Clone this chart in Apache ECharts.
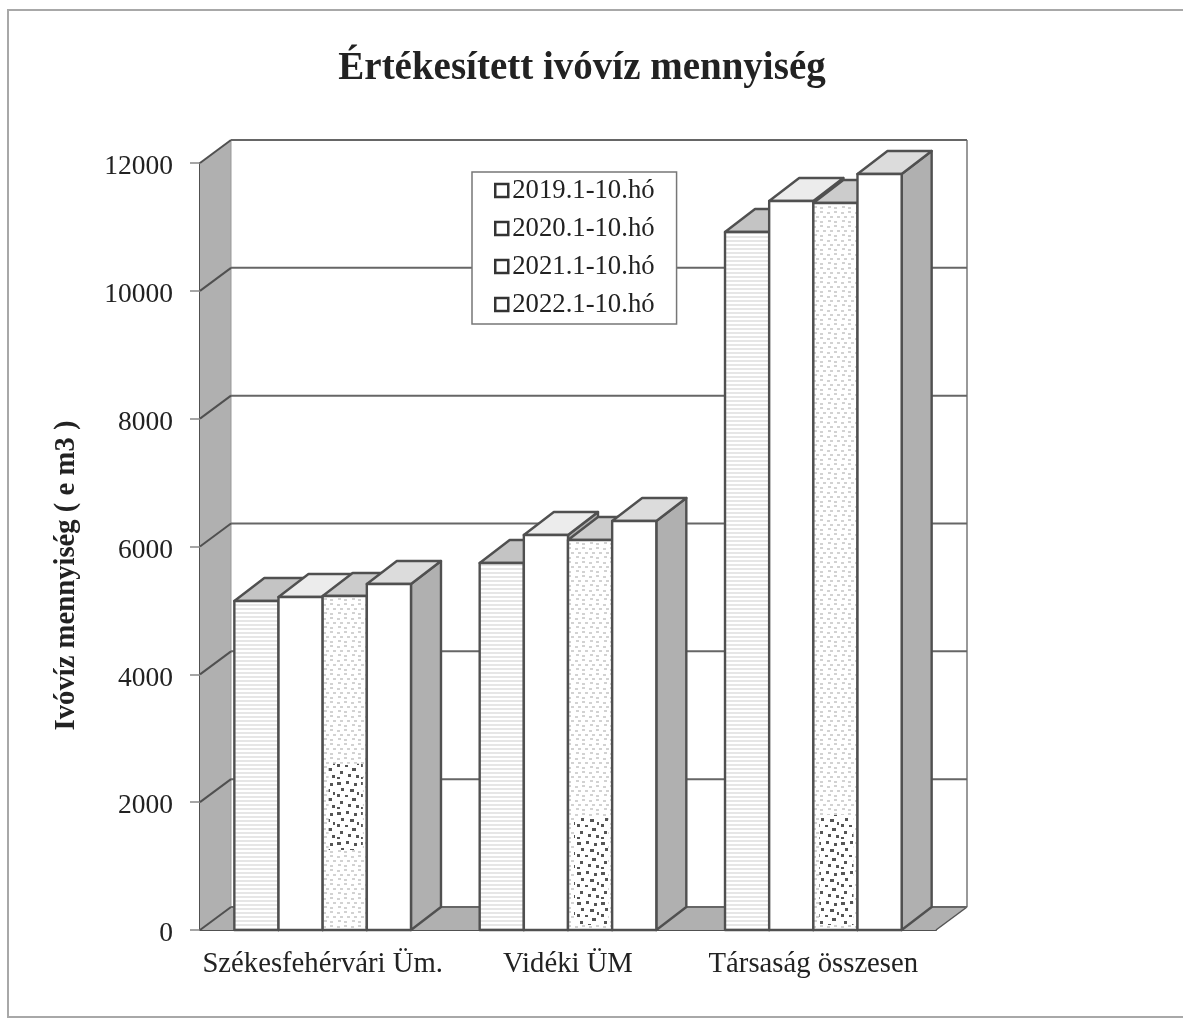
<!DOCTYPE html>
<html lang="hu">
<head>
    <meta charset="UTF-8"/>
    <script src="https://cdn.jsdelivr.net/npm/echarts@6/dist/echarts.min.js"></script>
    <title>Értékesített ivóvíz mennyiség</title>
    <style>
        html,body{margin:0;padding:0;background:#fff;}
        #chart{width:1183px;height:1018px;}
    </style>
</head>
<body>
<div id="chart"></div>
<script type="text/javascript">
    var categories = ['Székesfehérvári Üm.', 'Vidéki ÜM', 'Társaság összesen'];
    var yTicks = [0, 2000, 4000, 6000, 8000, 10000, 12000];
    var seriesNames = ['2019.1-10.hó', '2020.1-10.hó', '2021.1-10.hó', '2022.1-10.hó'];
    var values2019 = [5147, 5742, 10920];
    var values2020 = [5210, 6180, 11405];
    var values2021 = [5225, 6101, 11374];
    var values2022 = [5413, 6399, 11828];
    // dark speckled patches of the scan on the 2021 bars, value ranges
    var speckleLow = [1250, 80, 80];
    var speckleHigh = [2600, 1780, 1800];

    var FONT = '"Liberation Serif"';
    var LINE = '#505050';
    var SIDE = '#b0b0b0';
    var DEPTH_X = 30, DEPTH_Y = -23;
    var WALL_X = 31, WALL_Y = -23;
    var BAR_SHARE = 0.18;

    function makeTile(w, h, draw) {
        var c = document.createElement('canvas');
        c.width = w;
        c.height = h;
        var ctx = c.getContext('2d');
        ctx.fillStyle = '#fff';
        ctx.fillRect(0, 0, w, h);
        draw(ctx);
        return {image: c, repeat: 'repeat'};
    }
    var stripeFill = makeTile(4, 4, function (ctx) {
        ctx.fillStyle = '#e6e6e6';
        ctx.fillRect(0, 0, 4, 2);
    });
    var dotFill = makeTile(14, 14, function (ctx) {
        ctx.fillStyle = '#d2d2d2';
        [[1, 2], [8, 1], [4, 6], [11, 6], [2, 10], [8, 11]].forEach(function (p) {
            ctx.fillRect(p[0], p[1], 3, 2);
        });
    });
    var speckleFill = makeTile(24, 30, function (ctx) {
        ctx.fillStyle = '#555';
        [[1, 2, 4, 3], [10, 1, 3, 3], [18, 3, 3, 3], [5, 8, 3, 3], [14, 9, 4, 3], [21, 12, 2, 3], [1, 14, 3, 3], [9, 15, 3, 2], [16, 18, 4, 3], [4, 21, 3, 3], [12, 24, 3, 3], [20, 25, 3, 3], [1, 27, 3, 2]].forEach(function (p) {
            ctx.fillRect(p[0], p[1], p[2], p[3]);
        });
    });
    var frontFills = [stripeFill, '#fff', dotFill, '#fff'];
    var topFills = ['#c4c4c4', '#ececec', '#cccccc', '#dcdcdc'];

    function poly(points, fill, stroke, width) {
        return {
            type: 'polygon',
            shape: {points: points},
            style: {fill: fill, stroke: stroke || null, lineWidth: width || 0, lineJoin: 'round'}
        };
    }
    function seg(x1, y1, x2, y2, color, width) {
        return {
            type: 'line',
            shape: {x1: x1, y1: y1, x2: x2, y2: y2},
            style: {stroke: color, lineWidth: width}
        };
    }

    // walls, floor and gridlines
    function renderWalls(params, api) {
        var box = params.coordSys;
        var tick = api.coord([0, api.value(0)]);
        var children = [];
        var x0 = box.x, x1 = box.x + box.width;
        var yb = box.y + box.height, yt = box.y;
        if (params.dataIndex === 0) {
            children.push(poly([[x0, yb], [x0 + WALL_X, yb + WALL_Y], [x0 + WALL_X, yt + WALL_Y], [x0, yt]], SIDE));
            children.push(poly([[x0, yb], [x0 + WALL_X, yb + WALL_Y], [x1 + WALL_X, yb + WALL_Y], [x1, yb]], SIDE));
            children.push(seg(x1 + WALL_X, yt + WALL_Y, x1 + WALL_X, yb + WALL_Y, '#777', 1.5));
            children.push(seg(x0 + WALL_X, yt + WALL_Y, x0 + WALL_X, yb + WALL_Y, '#999', 1));
            children.push(seg(x1, yb, x1 + WALL_X, yb + WALL_Y, '#555', 1.5));
        }
        children.push(seg(x0, tick[1], x0 + WALL_X, tick[1] + WALL_Y, LINE, 2));
        children.push(seg(x0 + WALL_X, tick[1] + WALL_Y, x1 + WALL_X, tick[1] + WALL_Y, '#666', 2));
        return {type: 'group', children: children};
    }

    function barRenderer(order) {
        return function (params, api) {
            var top = api.coord([api.value(0), api.value(1)]);
            var base = api.coord([api.value(0), 0]);
            var w = api.size([1, 0])[0] * BAR_SHARE;
            var x = top[0] + (order - 2) * w;
            var lw = 2.4;
            var children = [
                poly([[x + w, top[1]], [x + w + DEPTH_X, top[1] + DEPTH_Y], [x + w + DEPTH_X, base[1] + DEPTH_Y], [x + w, base[1]]], SIDE, LINE, lw),
                poly([[x, top[1]], [x + DEPTH_X, top[1] + DEPTH_Y], [x + w + DEPTH_X, top[1] + DEPTH_Y], [x + w, top[1]]], topFills[order], LINE, lw),
                poly([[x, top[1]], [x + w, top[1]], [x + w, base[1]], [x, base[1]]], frontFills[order], LINE, lw)
            ];
            if (order === 2) {
                var hi = api.coord([api.value(0), speckleHigh[api.value(0)]]);
                var lo = api.coord([api.value(0), speckleLow[api.value(0)]]);
                children.push(poly([[x + 6, hi[1]], [x + w - 4, hi[1]], [x + w - 4, lo[1]], [x + 6, lo[1]]], speckleFill));
            }
            return {type: 'group', children: children};
        };
    }

    function barSeries(order, values) {
        return {
            name: seriesNames[order],
            type: 'custom',
            clip: false,
            renderItem: barRenderer(order),
            encode: {x: 0, y: 1},
            itemStyle: {color: '#fff', borderColor: '#333', borderWidth: 2},
            data: values.map(function (v, i) { return [i, v]; }),
            z: 3 + order
        };
    }

    var myChart = echarts.init(document.getElementById('chart'), null, {renderer: 'canvas'});
    var option = {
        backgroundColor: '#fff',
        animation: false,
        textStyle: {fontFamily: FONT},
        title: {
            text: 'Értékesített ivóvíz mennyiség',
            left: 577,
            top: 44,
            textAlign: 'center',
            textStyle: {fontFamily: FONT, fontWeight: 'bold', fontSize: 39, color: '#222'}
        },
        legend: {
            orient: 'vertical',
            left: 472,
            top: 172,
            padding: [5, 22, 6, 22],
            itemGap: 11,
            itemWidth: 13,
            itemHeight: 13,
            icon: 'rect',
            selectedMode: false,
            backgroundColor: '#fff',
            borderColor: '#777',
            borderWidth: 1.5,
            borderRadius: 0,
            itemStyle: {color: '#fff', borderColor: '#333', borderWidth: 2.5},
            textStyle: {fontFamily: FONT, fontSize: 26.7, color: '#222', padding: [0, 0, 0, -1]},
            data: seriesNames
        },
        grid: {left: 200, top: 163, width: 736, height: 767},
        xAxis: {
            type: 'category',
            data: categories,
            axisLine: {lineStyle: {color: LINE, width: 2}},
            axisTick: {length: 8, lineStyle: {color: '#666', width: 2}},
            axisLabel: {fontFamily: FONT, fontSize: 28.7, color: '#222', margin: 20, interval: 0}
        },
        yAxis: {
            type: 'value',
            min: 0,
            max: 12000,
            interval: 2000,
            name: 'Ivóvíz mennyiség ( e m3 )',
            nameLocation: 'middle',
            nameGap: 119,
            nameRotate: 90,
            nameTextStyle: {fontFamily: FONT, fontWeight: 'bold', fontSize: 28.7, color: '#222', padding: [0, 58, 0, 0]},
            axisLine: {show: true, lineStyle: {color: LINE, width: 2}},
            axisTick: {show: true, length: 10, lineStyle: {color: '#888', width: 1.5}},
            axisLabel: {
                fontFamily: FONT,
                fontSize: 27.5,
                color: '#222',
                margin: 27,
                verticalAlign: 'top',
                padding: [-10, 0, 0, 0],
                formatter: function (v) { return String(v); }
            },
            splitLine: {show: false}
        },
        graphic: [
            {type: 'polyline', silent: true, shape: {points: [[1183, 10], [8, 10], [8, 1017], [1183, 1017]]}, style: {fill: null, stroke: '#a8a8a8', lineWidth: 2}}
        ],
        series: [
            {
                type: 'custom',
                clip: false,
                silent: true,
                renderItem: renderWalls,
                encode: {y: 0},
                data: yTicks.map(function (t) { return [t]; }),
                z: 1
            },
            barSeries(0, values2019),
            barSeries(1, values2020),
            barSeries(2, values2021),
            barSeries(3, values2022)
        ]
    };
    myChart.setOption(option);
</script>
</body>
</html>
